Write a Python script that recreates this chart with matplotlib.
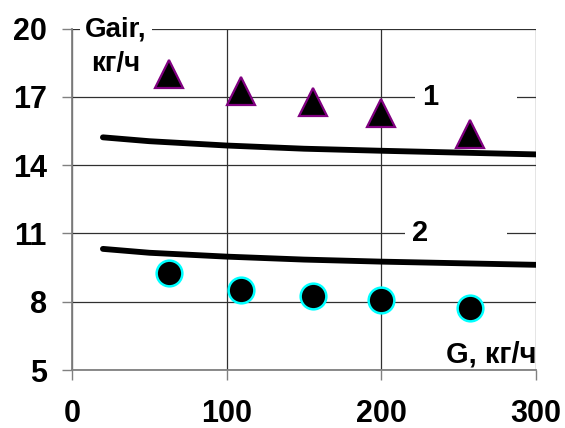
import matplotlib
matplotlib.use("Agg")
import matplotlib.pyplot as plt
from matplotlib.patches import Rectangle

plt.rcParams['font.family'] = ['Liberation Sans', 'DejaVu Sans']
plt.rcParams['font.weight'] = 'bold'

# Data
g_points = [63, 109, 156, 200, 257]
gair_exp1 = [18.0, 17.25, 16.78, 16.27, 15.35]
gair_exp2 = [9.25, 8.52, 8.27, 8.08, 7.71]

g_curve = [20, 50, 100, 150, 200, 250, 300]
gair_calc1 = [15.22, 15.05, 14.86, 14.72, 14.63, 14.55, 14.47]
gair_calc2 = [10.32, 10.15, 9.98, 9.85, 9.76, 9.69, 9.62]

x_ticks = [0, 100, 200, 300]
y_ticks = [5, 8, 11, 14, 17, 20]

fig = plt.figure(figsize=(5.65, 4.28), dpi=100)
ax = fig.add_axes([0.1274, 0.1355, 0.9487 - 0.1274, 0.9334 - 0.1355])

ax.set_xlim(0, 300)
ax.set_ylim(5, 20)
ax.set_xticks(x_ticks)
ax.set_yticks(y_ticks)
ax.set_xticklabels([str(v) for v in x_ticks], fontsize=22, fontweight='bold')
ax.set_yticklabels([str(v) for v in y_ticks], fontsize=22, fontweight='bold')

ax.tick_params(axis='both', direction='out', length=7.2, width=1.0, color='#808080')
ax.tick_params(axis='x', pad=14)
ax.tick_params(axis='y', pad=11)

for s in ['top', 'right']:
    ax.spines[s].set_visible(False)
for s in ['left', 'bottom']:
    ax.spines[s].set_color('#808080')
    ax.spines[s].set_linewidth(1.3)

ax.set_axisbelow(True)
ax.grid(True, color='#303030', linewidth=0.9)

# white text boxes (Excel-like) covering grid lines
for (x0, y0, w, h) in [(5, 19.55, 47, 0.9), (222, 16.55, 66, 0.9), (215, 10.55, 66, 0.9)]:
    ax.add_patch(Rectangle((x0, y0), w, h, facecolor='white', edgecolor='none',
                           zorder=1.5, clip_on=False))

ax.plot(g_curve, gair_calc1, color='black', linewidth=4.2, solid_capstyle='round', zorder=3)
ax.plot(g_curve, gair_calc2, color='black', linewidth=4.2, solid_capstyle='round', zorder=3)

ax.plot(g_points, gair_exp1, linestyle='none', marker='^', markersize=20,
        markerfacecolor='black', markeredgecolor='#800080', markeredgewidth=1.6, zorder=4)
ax.plot(g_points, gair_exp2, linestyle='none', marker='o', markersize=18.5,
        markerfacecolor='black', markeredgecolor='#00FFFF', markeredgewidth=1.8, zorder=4)

ax.text(28.5, 19.2, 'Gair,\nкг/ч', fontsize=20, fontweight='bold', ha='center', va='center',
        multialignment='center', linespacing=1.4, zorder=5)
ax.text(231.5, 17.0, '1', fontsize=21, fontweight='bold', ha='center', va='center', zorder=5)
ax.text(225, 11.0, '2', fontsize=21, fontweight='bold', ha='center', va='center', zorder=5)
ax.text(300, 5.35, 'G, кг/ч', fontsize=21, fontweight='bold', ha='right', va='baseline', zorder=5)

fig.savefig('out.png', dpi=100, facecolor='white')
